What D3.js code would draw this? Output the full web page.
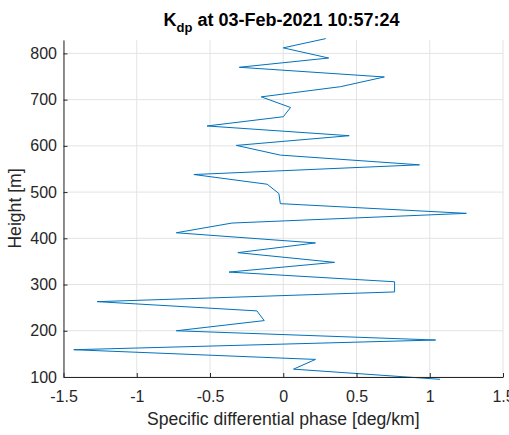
<!DOCTYPE html>
<html>
<head>
<meta charset="utf-8">
<script src="https://cdn.jsdelivr.net/npm/d3@7.9.0/dist/d3.min.js"></script>
<style>
  body { margin: 0; background: #fff; }
  svg { font-family: "Liberation Sans", Arial, sans-serif; }
</style>
</head>
<body>
<svg id="chart" width="509" height="435"></svg>
<script>
// Kdp profile (top to bottom)
const heights = [832, 812, 790, 770, 749, 728, 706, 683, 663, 643, 622, 601,
                 580, 559, 538, 517, 497, 475, 454, 433, 412, 390, 369, 348,
                 327, 306, 284, 263, 243, 222, 200, 180, 159, 138, 117, 95];
const kdp = [0.29, 0.0, 0.31, -0.30, 0.69, 0.39, -0.15, 0.05, 0.0, -0.52, 0.45, -0.32,
             -0.02, 0.93, -0.61, -0.11, -0.03, -0.02, 1.25, -0.35, -0.73, 0.22, -0.31, 0.35,
             -0.37, 0.76, 0.76, -1.27, -0.18, -0.13, -0.73, 1.04, -1.43, 0.22, 0.07, 1.07];
const xTicks = [-1.5, -1, -0.5, 0, 0.5, 1, 1.5];
const yTicks = [100, 200, 300, 400, 500, 600, 700, 800];

const data = heights.map((h, i) => ({ h: h, v: kdp[i] }));

const margin = { top: 40, right: 6, bottom: 58, left: 63.5 };
const width = 509, height = 435;
const svg = d3.select("#chart");

const x = d3.scaleLinear().domain([-1.5, 1.5])
    .range([margin.left, width - margin.right]);
const y = d3.scaleLinear().domain([100, 829])
    .range([height - margin.bottom, margin.top]);

const axisColor = "#262626";
const gridColor = "#e3e3e3";

// grid
svg.append("g").selectAll("line").data(xTicks).enter().append("line")
    .attr("x1", d => x(d)).attr("x2", d => x(d))
    .attr("y1", y(100)).attr("y2", margin.top)
    .attr("stroke", gridColor).attr("stroke-width", 1);
svg.append("g").selectAll("line").data(yTicks).enter().append("line")
    .attr("x1", x(-1.5)).attr("x2", x(1.5))
    .attr("y1", d => y(d)).attr("y2", d => y(d))
    .attr("stroke", gridColor).attr("stroke-width", 1);

// line
const line = d3.line().x(d => x(d.v)).y(d => y(d.h));
svg.append("path").datum(data)
    .attr("d", line)
    .attr("fill", "none")
    .attr("stroke", "#0072BD")
    .attr("stroke-width", 1);

// axes (MATLAB style, ticks inward)
const xAxis = svg.append("g")
    .attr("transform", `translate(0,${y(100)})`)
    .call(d3.axisBottom(x).tickValues(xTicks).tickFormat(d3.format("")).tickSizeInner(-4).tickSizeOuter(0).tickPadding(14));
const yAxis = svg.append("g")
    .attr("transform", `translate(${x(-1.5)},0)`)
    .call(d3.axisLeft(y).tickValues(yTicks).tickFormat(d3.format("")).tickSizeInner(-4).tickSizeOuter(0).tickPadding(6.5));

[xAxis, yAxis].forEach(g => {
    g.select(".domain").attr("stroke", axisColor).attr("stroke-width", 1);
    g.selectAll(".tick line").attr("stroke", axisColor);
    g.selectAll(".tick text").attr("fill", axisColor).attr("font-size", 16)
        .attr("font-family", "'Liberation Sans', Arial, sans-serif");
});
xAxis.selectAll(".tick text").text(d => d < 0 ? "-" + Math.abs(d) : d);

// labels
svg.append("text")
    .attr("x", (x(-1.5) + x(1.5)) / 2).attr("y", 425)
    .attr("text-anchor", "middle").attr("font-size", 17.6).attr("fill", axisColor)
    .text("Specific differential phase [deg/km]");

svg.append("text")
    .attr("transform", `translate(20.5,${(y(100) + margin.top) / 2}) rotate(-90)`)
    .attr("text-anchor", "middle").attr("font-size", 17.6).attr("fill", axisColor)
    .text("Height [m]");

const title = svg.append("text")
    .attr("x", 281.5).attr("y", 26)
    .attr("text-anchor", "middle").attr("font-size", 18).attr("font-weight", "bold")
    .attr("fill", "#000");
title.append("tspan").text("K");
title.append("tspan").attr("font-size", 13).attr("dy", 6).text("dp");
title.append("tspan").attr("dy", -6).text(" at 03-Feb-2021 10:57:24");
</script>
</body>
</html>
